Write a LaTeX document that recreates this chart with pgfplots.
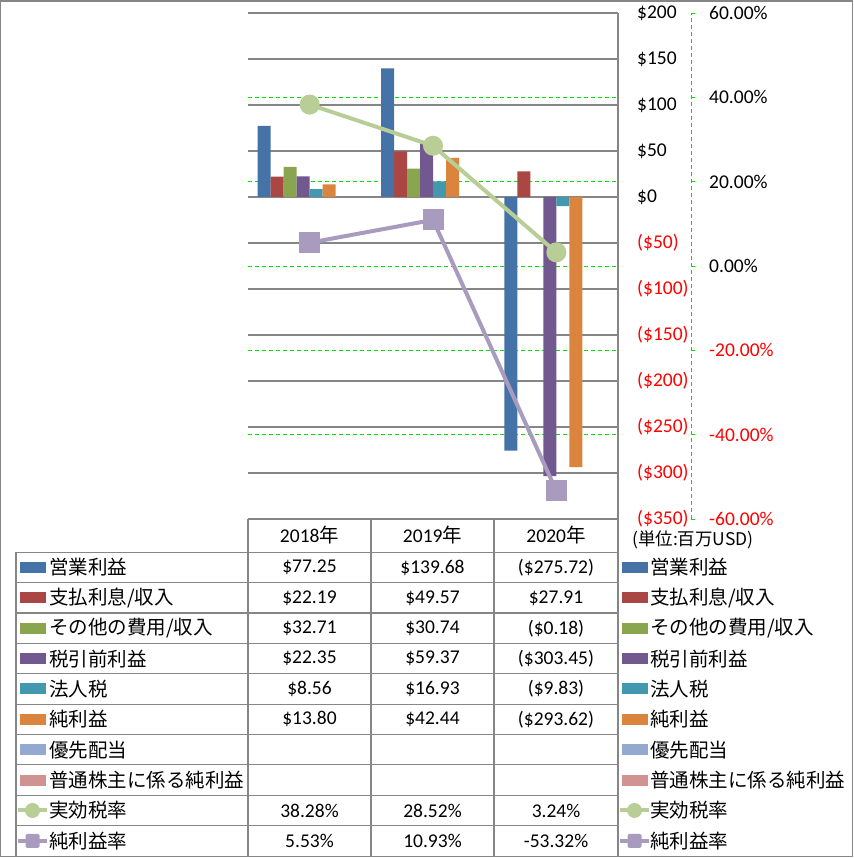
\documentclass[border=0pt]{standalone}
\usepackage{pgfplots}
\pgfplotsset{compat=1.18}
\usepackage{fontspec}
\setmainfont{Carlito}
\newfontfamily\jp{Noto Sans CJK JP}
\definecolor{c1}{HTML}{4572A7}
\definecolor{c2}{HTML}{AA4643}
\definecolor{c3}{HTML}{89A54E}
\definecolor{c4}{HTML}{71588F}
\definecolor{c5}{HTML}{4198AF}
\definecolor{c6}{HTML}{DB843D}
\definecolor{c7}{HTML}{93A9CF}
\definecolor{c8}{HTML}{D19392}
\definecolor{l1}{HTML}{B9CD96}
\definecolor{l2}{HTML}{A99BBD}
\definecolor{gline}{HTML}{868686}
\definecolor{dgreen}{HTML}{00E000}
\definecolor{nred}{HTML}{FF0000}
\newcommand\fs{\fontsize{19.5}{22}\selectfont}
\begin{document}
\begin{tikzpicture}
\useasboundingbox (0,0) rectangle (853pt,-858pt);
% primary axis: bars
\begin{axis}[
  at={(248pt,-519pt)}, anchor=south west,
  scale only axis, width=370pt, height=506pt,
  xmin=-0.5, xmax=2.5, ymin=-350, ymax=200,
  axis x line=none, axis y line*=right,
  y axis line style={gline, line width=1.2pt, -},
  ytick={-350,-300,...,200},
  yticklabels={{\color{nred}(\$350)},{\color{nred}(\$300)},{\color{nred}(\$250)},{\color{nred}(\$200)},{\color{nred}(\$150)},{\color{nred}(\$100)},{\color{nred}(\$50)},\$0,\$50,\$100,\$150,\$200},
  ymajorgrids, major grid style={gline, line width=1.2pt},
  major tick length=0pt,
  yticklabel style={font=\fs, anchor=west, inner sep=0pt, xshift=19pt},
  extra y ticks={108.333,16.667,-75,-166.667,-258.333},
  extra y tick labels={},
  extra y tick style={grid=major, major grid style={dgreen, dash pattern=on 4pt off 3pt, line width=1pt}},
  bar width=0.1054,
]
\addplot[ybar, bar width=0.1054, bar shift=-0.3689, fill=c1, draw=none] coordinates {(0,77.25) (1,139.68) (2,-275.72)};
\addplot[ybar, bar width=0.1054, bar shift=-0.2635, fill=c2, draw=none] coordinates {(0,22.19) (1,49.57) (2,27.91)};
\addplot[ybar, bar width=0.1054, bar shift=-0.1581, fill=c3, draw=none] coordinates {(0,32.71) (1,30.74) (2,-0.18)};
\addplot[ybar, bar width=0.1054, bar shift=-0.0527, fill=c4, draw=none] coordinates {(0,22.35) (1,59.37) (2,-303.45)};
\addplot[ybar, bar width=0.1054, bar shift=0.0527, fill=c5, draw=none] coordinates {(0,8.56) (1,16.93) (2,-9.83)};
\addplot[ybar, bar width=0.1054, bar shift=0.1581, fill=c6, draw=none] coordinates {(0,13.80) (1,42.44) (2,-293.62)};
\end{axis}
% secondary axis: lines
\begin{axis}[
  at={(248pt,-519pt)}, anchor=south west,
  scale only axis, width=443pt, height=506pt,
  xmin=-0.5, xmax=3.0919, ymin=-60, ymax=60,
  axis x line=none, axis y line*=right,
  y axis line style={dgreen, dash pattern=on 4pt off 3pt, line width=1pt, -},
  ytick={-60,-40,...,60},
  yticklabels={{\color{nred}-60.00\%},{\color{nred}-40.00\%},{\color{nred}-20.00\%},0.00\%,20.00\%,40.00\%,60.00\%},
  tick align=outside, major tick length=4pt,
  major tick style={dgreen, line width=1pt},
  yticklabel style={font=\fs, anchor=west, inner sep=0pt, xshift=14pt},
  clip=false,
]
\addplot[l1, line width=4pt, mark=*, mark size=8pt, mark options={fill=l1, draw=none}] coordinates {(0,38.28) (1,28.52) (2,3.24)};
\addplot[l2, line width=4pt, mark=square*, mark size=8.5pt, mark options={fill=l2, draw=none, rounded corners=2pt}] coordinates {(0,5.53) (1,10.93) (2,-53.32)};
\end{axis}
% table and legend
\begin{scope}[x=1pt,y=-1pt, font=\fs]
\draw[gline, line width=1.2pt] (0.7,1) rectangle (852.3,856.3);
\foreach \x in {248,371,494} \draw[gline,line width=1.2pt] (\x,519) -- (\x,856);
\draw[gline,line width=1.2pt] (618,13) -- (618,856);
\draw[gline,line width=1.2pt] (16,552.3) -- (16,856);
\foreach \i in {0,...,9} \draw[gline,line width=1.2pt] (16,{552.3+30.37*\i}) -- (618,{552.3+30.37*\i});
\node at (309.5,535.5) {2018{\jp 年}};
\node at (432.5,535.5) {2019{\jp 年}};
\node at (556,535.5) {2020{\jp 年}};
\node[anchor=west,inner sep=0pt] at (632,540) {\fontsize{17.5}{20}\selectfont\jp (単位:百万USD)};
% rows
\foreach \i/\c/\t/\a/\b/\d in {
 0/c1/{営業利益}/\$77.25/\$139.68/(\$275.72),
 1/c2/{支払利息/収入}/\$22.19/\$49.57/\$27.91,
 2/c3/{その他の費用/収入}/\$32.71/\$30.74/(\$0.18),
 3/c4/{税引前利益}/\$22.35/\$59.37/(\$303.45),
 4/c5/{法人税}/\$8.56/\$16.93/(\$9.83),
 5/c6/{純利益}/\$13.80/\$42.44/(\$293.62),
 6/c7/{優先配当}/{}/{}/{},
 7/c8/{普通株主に係る純利益}/{}/{}/{}}{
  \pgfmathsetmacro\yy{567.5+30.37*\i}
  \fill[\c] (20,\yy-5.5) rectangle (45.7,\yy+5.5);
  \fill[\c] (622,\yy-5.5) rectangle (647.7,\yy+5.5);
  \node[anchor=west,inner sep=0pt] at (49,\yy) {\jp \t};
  \node[anchor=west,inner sep=0pt] at (650,\yy) {\jp \t};
  \node at (309.5,\yy) {\a};
  \node at (432.5,\yy) {\b};
  \node at (556,\yy) {\d};
}
% line series rows
\pgfmathsetmacro\yy{567.5+30.37*8}
\draw[l1, line width=4pt] (18,\yy) -- (47,\yy);
\fill[l1] (32.5,\yy) circle (7.5);
\draw[l1, line width=4pt] (620,\yy) -- (649,\yy);
\fill[l1] (634.5,\yy) circle (7.5);
\node[anchor=west,inner sep=0pt] at (49,\yy) {\jp 実効税率};
\node[anchor=west,inner sep=0pt] at (650,\yy) {\jp 実効税率};
\node at (309.5,\yy) {38.28\%};
\node at (432.5,\yy) {28.52\%};
\node at (556,\yy) {3.24\%};
\pgfmathsetmacro\yy{567.5+30.37*9}
\draw[l2, line width=4pt] (18,\yy) -- (47,\yy);
\fill[l2, rounded corners=1.5] (25.5,\yy-7) rectangle (39.5,\yy+7);
\draw[l2, line width=4pt] (620,\yy) -- (649,\yy);
\fill[l2, rounded corners=1.5] (627.5,\yy-7) rectangle (641.5,\yy+7);
\node[anchor=west,inner sep=0pt] at (49,\yy) {\jp 純利益率};
\node[anchor=west,inner sep=0pt] at (650,\yy) {\jp 純利益率};
\node at (309.5,\yy) {5.53\%};
\node at (432.5,\yy) {10.93\%};
\node at (556,\yy) {-53.32\%};
\end{scope}
\end{tikzpicture}
\end{document}
